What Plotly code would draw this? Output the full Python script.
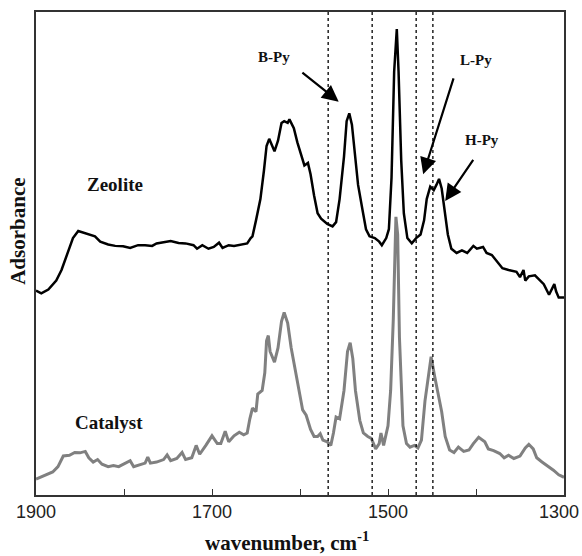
import plotly.graph_objects as go

zeo_wn = [1900, 1894, 1886, 1877, 1871, 1865, 1858, 1852, 1846, 1839, 1833, 1827, 1818, 1810, 1801, 1793,
          1784, 1776, 1768, 1763, 1755, 1747, 1738, 1730, 1721, 1717, 1711, 1704, 1698, 1692, 1688, 1681,
          1675, 1666, 1660, 1656, 1654, 1650, 1645, 1641, 1638, 1635, 1629, 1625, 1621, 1618, 1614, 1612,
          1607, 1603, 1599, 1595, 1591, 1588, 1584, 1580, 1576, 1569, 1563, 1559, 1555, 1550, 1547, 1544,
          1541, 1537, 1534, 1529, 1525, 1521, 1515, 1510, 1507, 1502, 1499, 1496, 1493, 1490, 1488, 1485,
          1482, 1478, 1473, 1468, 1463, 1459, 1456, 1452, 1448, 1445, 1442, 1439, 1435, 1432, 1428, 1422,
          1416, 1410, 1403, 1399, 1392, 1388, 1382, 1376, 1370, 1363, 1354, 1350, 1346, 1344, 1340, 1333,
          1327, 1323, 1317, 1314, 1311, 1309, 1306, 1300]
zeo_abs = [0.577, 0.569, 0.580, 0.605, 0.635, 0.675, 0.725, 0.745, 0.740, 0.735, 0.730, 0.715, 0.707, 0.703, 0.702, 0.697,
           0.705, 0.705, 0.703, 0.710, 0.713, 0.717, 0.711, 0.710, 0.705, 0.695, 0.705, 0.695, 0.700, 0.712, 0.697, 0.705,
           0.703, 0.707, 0.710, 0.725, 0.730, 0.775, 0.835, 0.915, 0.985, 1.005, 0.970, 1.000, 1.050, 1.055, 1.050, 1.060,
           1.035, 0.995, 0.965, 0.930, 0.937, 0.905, 0.845, 0.795, 0.780, 0.765, 0.758, 0.770, 0.835, 0.955, 1.055, 1.077,
           1.045, 0.945, 0.875, 0.805, 0.750, 0.730, 0.725, 0.715, 0.705, 0.725, 0.750, 0.895, 1.195, 1.315, 1.195, 0.945,
           0.795, 0.725, 0.710, 0.725, 0.735, 0.775, 0.835, 0.870, 0.860, 0.875, 0.892, 0.865, 0.795, 0.735, 0.695, 0.683,
           0.690, 0.683, 0.703, 0.695, 0.700, 0.683, 0.677, 0.660, 0.640, 0.635, 0.630, 0.615, 0.635, 0.605, 0.617, 0.620,
           0.605, 0.595, 0.565, 0.580, 0.595, 0.575, 0.557, 0.557]

cat_wn = [1900, 1890, 1881, 1875, 1869, 1862, 1856, 1850, 1844, 1840, 1835, 1830, 1825, 1818, 1812, 1806,
          1799, 1793, 1789, 1782, 1776, 1773, 1770, 1763, 1755, 1751, 1747, 1740, 1734, 1730, 1723, 1718,
          1714, 1707, 1700, 1694, 1690, 1685, 1681, 1675, 1669, 1664, 1660, 1657, 1654, 1650, 1648, 1643,
          1640, 1638, 1636, 1634, 1629, 1625, 1621, 1618, 1614, 1610, 1605, 1601, 1597, 1593, 1588, 1584,
          1580, 1577, 1574, 1569, 1565, 1562, 1559, 1555, 1550, 1546, 1543, 1540, 1537, 1532, 1528, 1523,
          1519, 1514, 1510, 1508, 1505, 1500, 1497, 1494, 1492, 1491, 1489, 1487, 1483, 1479, 1475, 1470,
          1466, 1462, 1458, 1454, 1451, 1447, 1443, 1439, 1435, 1430, 1425, 1420, 1414, 1408, 1403, 1397,
          1390, 1386, 1380, 1373, 1368, 1363, 1357, 1350, 1344, 1340, 1335, 1331, 1325, 1319, 1312, 1306, 1300]
cat_abs = [0.045, 0.055, 0.065, 0.080, 0.110, 0.112, 0.120, 0.119, 0.123, 0.105, 0.093, 0.100, 0.087, 0.080, 0.083, 0.080,
           0.090, 0.097, 0.080, 0.085, 0.090, 0.107, 0.090, 0.093, 0.100, 0.113, 0.097, 0.103, 0.120, 0.100, 0.105, 0.140,
           0.115, 0.140, 0.167, 0.145, 0.145, 0.180, 0.150, 0.167, 0.177, 0.170, 0.175, 0.215, 0.245, 0.235, 0.285, 0.295,
           0.345, 0.435, 0.450, 0.405, 0.375, 0.415, 0.490, 0.515, 0.485, 0.415, 0.345, 0.285, 0.240, 0.225, 0.185, 0.165,
           0.165, 0.173, 0.155, 0.150, 0.140, 0.175, 0.220, 0.215, 0.295, 0.405, 0.430, 0.385, 0.295, 0.210, 0.175, 0.165,
           0.160, 0.130, 0.145, 0.175, 0.140, 0.195, 0.295, 0.495, 0.745, 0.785, 0.735, 0.445, 0.195, 0.145, 0.135, 0.140,
           0.133, 0.155, 0.265, 0.345, 0.390, 0.335, 0.280, 0.235, 0.165, 0.127, 0.120, 0.135, 0.123, 0.127, 0.145, 0.163,
           0.150, 0.130, 0.125, 0.117, 0.105, 0.112, 0.103, 0.110, 0.133, 0.143, 0.130, 0.105, 0.093, 0.083, 0.070, 0.057, 0.050]

ref_lines = [1568, 1518, 1468, 1449]
tick_vals = [1900, 1700, 1500]
tick_text = ["1900", "1700", "1500"]
edge_tick_text = "1300"

fig = go.Figure()
fig.add_trace(go.Scatter(x=zeo_wn, y=zeo_abs, mode="lines",
                         line=dict(color="#000000", width=2.5), showlegend=False))
fig.add_trace(go.Scatter(x=cat_wn, y=cat_abs, mode="lines",
                         line=dict(color="#808080", width=3), showlegend=False))

for v in ref_lines:
    fig.add_shape(type="line", x0=v, x1=v, y0=0, y1=1, xref="x", yref="paper",
                  line=dict(color="#000000", width=1.3, dash="dot"))

serif = "Liberation Serif, Times New Roman, serif"
sans = "Liberation Sans, Arial, sans-serif"
lab = dict(family=serif, size=15, color="#111111")

# text labels
fig.add_annotation(x=1810, y=0.877, text="<b>Zeolite</b>", showarrow=False,
                   font=dict(family=serif, size=19, color="#111111"))
fig.add_annotation(x=1817, y=0.206, text="<b>Catalyst</b>", showarrow=False,
                   font=dict(family=serif, size=19, color="#111111"))
fig.add_annotation(x=1630, y=1.235, text="<b>B-Py</b>", showarrow=False, font=lab)
fig.add_annotation(x=1400, y=1.227, text="<b>L-Py</b>", showarrow=False, font=lab)
fig.add_annotation(x=1393, y=1.002, text="<b>H-Py</b>", showarrow=False, font=lab)

# arrows
arrows = [((1599, 1.195), (1556, 1.110)),
          ((1425, 1.180), (1460, 0.905)),
          ((1402, 0.950), (1435, 0.830))]
for (tx, ty), (hx, hy) in arrows:
    fig.add_annotation(x=hx, y=hy, ax=tx, ay=ty, xref="x", yref="y", axref="x", ayref="y",
                       text="", showarrow=True, arrowhead=2, arrowsize=1.5, arrowwidth=2.2,
                       arrowcolor="#000000")

# rightmost tick label kept inside the page
fig.add_annotation(x=1.032, y=-0.035, xref="paper", yref="paper", text=edge_tick_text,
                   showarrow=False, xanchor="right", yanchor="middle",
                   font=dict(family=sans, size=18, color="#222222"))

# axis titles as annotations
fig.add_annotation(x=-0.034, y=0.545, xref="paper", yref="paper", text="<b>Adsorbance</b>",
                   textangle=-90, showarrow=False, xanchor="center", yanchor="middle",
                   font=dict(family=serif, size=21, color="#111111"))
fig.add_annotation(x=0.476, y=-0.097, xref="paper", yref="paper",
                   text="<b>wavenumber, cm<sup>-1</sup></b>", showarrow=False,
                   xanchor="center", yanchor="middle",
                   font=dict(family=serif, size=21, color="#111111"))

fig.update_xaxes(range=[1900, 1300], tickvals=tick_vals, ticktext=tick_text,
                 ticks="inside", ticklen=6, tickwidth=1.2, tickcolor="#333333",
                 minor=dict(ticks="inside", dtick=100, tick0=1900, ticklen=6, tickwidth=1.2,
                            tickcolor="#333333", showgrid=False),
                 ticklabeloverflow="allow", automargin=False,
                 showline=True, linecolor="#333333", linewidth=1.5, mirror=True,
                 showgrid=False, zeroline=False,
                 tickfont=dict(family=sans, size=18, color="#222222"))
fig.update_yaxes(range=[0, 1.363], showticklabels=False, ticks="", automargin=False,
                 showline=True, linecolor="#333333", linewidth=1.5, mirror=True,
                 showgrid=False, zeroline=False)

fig.update_layout(width=582, height=556, plot_bgcolor="white", paper_bgcolor="white",
                  margin=dict(l=36, r=18, t=12, b=61, autoexpand=False))

fig.write_html("out.html")
